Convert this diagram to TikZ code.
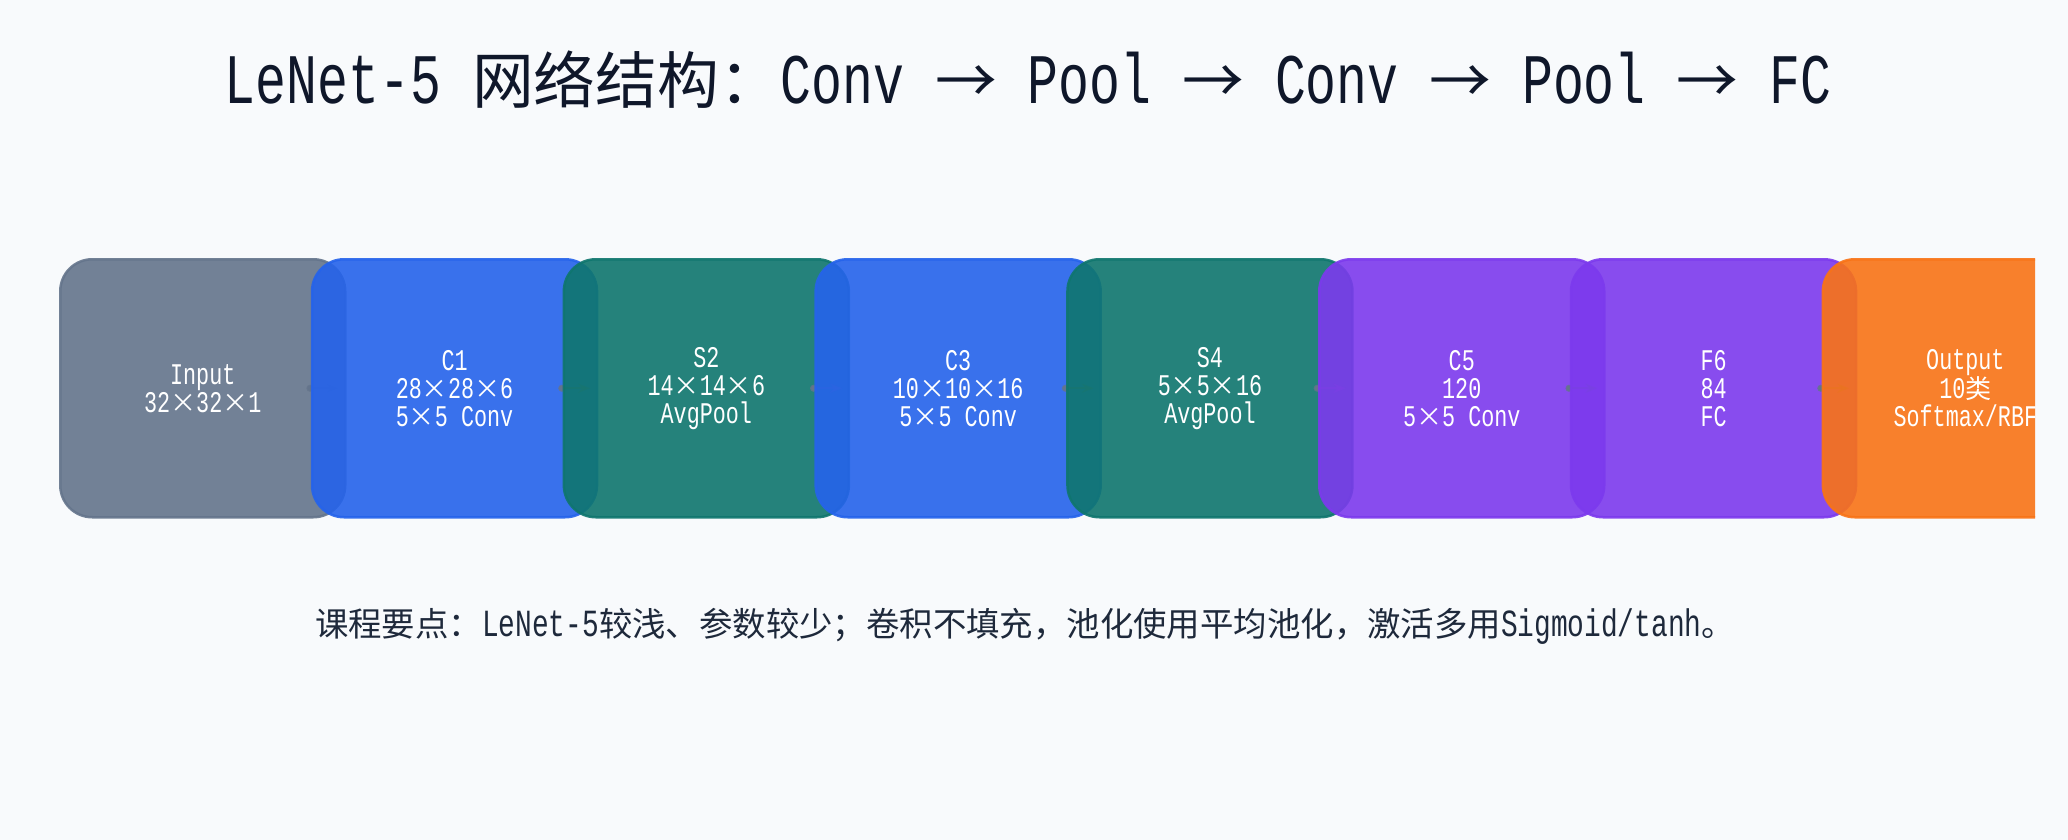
\documentclass[tikz,border=0pt]{standalone}
\usepackage{fontspec}
\setmainfont[FakeStretch=0.725]{Liberation Mono}
\newfontfamily\cjk[Scale=0.87]{Noto Sans CJK SC}
\newcommand{\zh}[1]{{\cjk #1}}
\usepackage{xcolor}
\usepackage{tikz}
\usetikzlibrary{arrows.meta}

\definecolor{bgpage}{HTML}{F8FAFC}
\definecolor{ink}{HTML}{0F172A}
\definecolor{note}{HTML}{1E293B}
\definecolor{slate}{HTML}{64748B}
\definecolor{convblue}{HTML}{2563EB}
\definecolor{poolteal}{HTML}{0F766E}
\definecolor{fcpurple}{HTML}{7C3AED}
\definecolor{outorange}{HTML}{F97316}

\begin{document}
\begin{tikzpicture}[x=1pt,y=-1pt,
    layer/.style={draw=#1, fill=#1, fill opacity=0.9, draw opacity=0.9, text opacity=1,
        text=white, rounded corners=32pt, line width=2.5pt, inner sep=0pt,
        minimum width=285pt, minimum height=258pt, anchor=north west,
        align=center, font=\fontsize{30}{28}\selectfont},
    link/.style={draw=slate, draw opacity=0.8, line width=2pt,
        arrows={Circle[length=7pt]-Stealth[length=12pt]}}]
    \fill[bgpage] (0,0) rectangle (2068,840);
    \useasboundingbox (0,0) rectangle (2068,840);

    \node[anchor=base, text=ink, font=\fontsize{71}{80}\selectfont] (head) at (1028,103)
        {LeNet-5 \zh{网络结构：}Conv \zh{→} Pool \zh{→} Conv \zh{→} Pool \zh{→} FC};

    % layers, each one lies over the one before
    \node[layer=slate] (in) at (59,258) {Input\\32\zh{×}32\zh{×}1};
    \draw[link] ([xshift=-40pt]in.east) -- ([xshift=-8pt]in.east);
    \node[layer=convblue] (c1) at (310.8,258) {C1\\28\zh{×}28\zh{×}6\\5\zh{×}5 Conv};
    \draw[link] ([xshift=-40pt]c1.east) -- ([xshift=-8pt]c1.east);
    \node[layer=poolteal] (s2) at (562.6,258) {S2\\14\zh{×}14\zh{×}6\\AvgPool};
    \draw[link] ([xshift=-40pt]s2.east) -- ([xshift=-8pt]s2.east);
    \node[layer=convblue] (c3) at (814.4,258) {C3\\10\zh{×}10\zh{×}16\\5\zh{×}5 Conv};
    \draw[link] ([xshift=-40pt]c3.east) -- ([xshift=-8pt]c3.east);
    \node[layer=poolteal] (s4) at (1066.2,258) {S4\\5\zh{×}5\zh{×}16\\AvgPool};
    \draw[link] ([xshift=-40pt]s4.east) -- ([xshift=-8pt]s4.east);
    \node[layer=fcpurple] (c5) at (1318,258) {C5\\120\\5\zh{×}5 Conv};
    \draw[link] ([xshift=-40pt]c5.east) -- ([xshift=-8pt]c5.east);
    \node[layer=fcpurple] (f6) at (1569.8,258) {F6\\84\\FC};
    \draw[link] ([xshift=-40pt]f6.east) -- ([xshift=-8pt]f6.east);
    \begin{scope}
        \clip (0,0) rectangle (2035,840); % last layer is cut at the edge
        \node[layer=outorange] (out) at (1821.6,258) {Output\\10\zh{类}\\Softmax/RBF};
    \end{scope}

    \node[anchor=base, text=note, font=\fontsize{38.4}{44}\selectfont] (tip) at (1025,636)
        {\zh{课程要点：}LeNet-5\zh{较浅、参数较少；卷积不填充，池化使用平均池化，激活多用}Sigmoid/tanh\zh{。}};
\end{tikzpicture}
\end{document}
